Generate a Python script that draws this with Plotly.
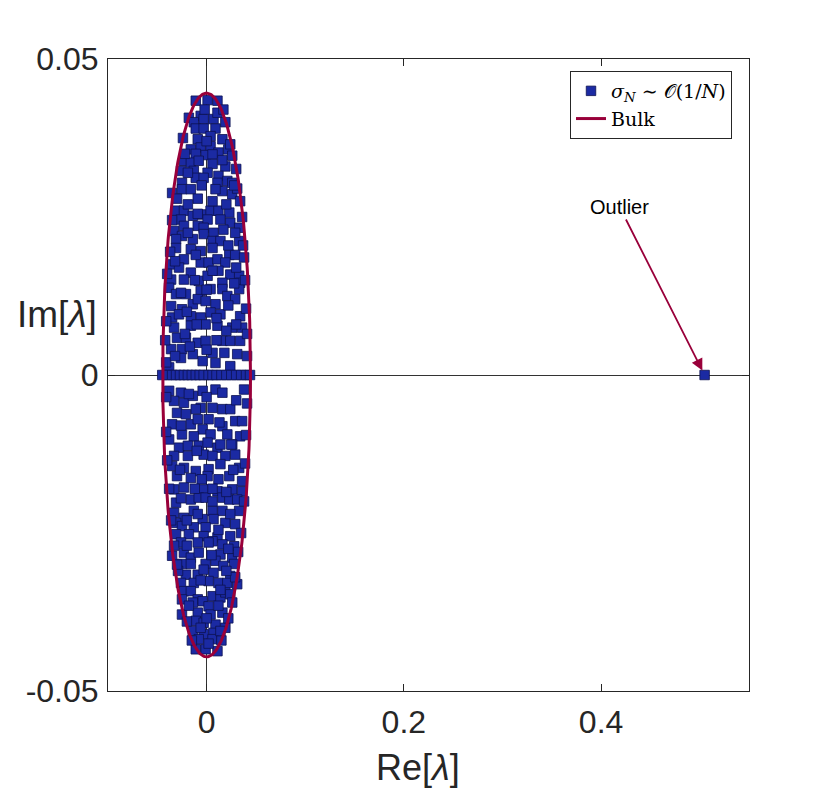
import numpy as np
import plotly.graph_objects as go

# eigenvalues, strip by strip from top to bottom
re_vals = [
    -0.011, 0.001, 0.011, -0.018, -0.006, -0.013, -0.003, 0.007, 0.011, 0.019, -0.011, -0.003, 0.009, -0.024,
    -0.009, 0.004, 0.016, 0.022, -0.016, -0.006, 0.004, 0.012, 0.026, -0.023, -0.011, -0.001, 0.006, -0.016,
    -0.008, 0.006, 0.019, 0.030, -0.026, -0.013, 0.001, 0.012, 0.021, -0.025, -0.011, -0.003, 0.011, 0.026,
    -0.035, -0.025, -0.016, -0.009, -0.030, 0.016, 0.026, 0.034, 0.009,
    -0.031, -0.023, -0.014, -0.004, 0.004, 0.012, 0.023, -0.026, 0.001, 0.014, 0.024, 0.033,
    -0.033, -0.023, -0.009, -0.003, 0.007, 0.017, -0.025, -0.014, -0.003, 0.006, 0.014, 0.033, -0.031,
    -0.031, -0.016, -0.006, 0.006, 0.023, 0.029, -0.023, -0.006, 0.002, 0.011, 0.019, 0.038, -0.035,
    -0.028, -0.016, -0.008, 0.001, 0.012, 0.024, 0.033, -0.036, -0.023, 0.016, 0.034,
    -0.038, -0.031, -0.021, -0.006, 0.004, 0.016, 0.033, -0.014, -0.009, -0.001, 0.009, 0.021, 0.029, -0.036, -0.025,
    -0.035, -0.028, -0.016, -0.006, 0.004, 0.014, 0.034, -0.033, -0.016, -0.001, 0.011, 0.026, 0.036,
    -0.030, -0.021, -0.009, -0.001, 0.016, 0.024, 0.034, -0.036, -0.025, -0.014, 0.006, 0.031,
    -0.026, -0.004, 0.009, 0.024, -0.038,
    -0.045, -0.040, -0.035, -0.031, -0.027, -0.023, -0.019, -0.015, -0.011, -0.007, -0.003,
    0.002, 0.006, 0.010, 0.015, 0.020, 0.025, 0.030, 0.035, 0.040, 0.044,
    -0.038, -0.026, -0.004, 0.009, 0.016, 0.038, -0.033, -0.023, -0.014, -0.006, 0.006, 0.016, 0.024,
    -0.030, -0.021, -0.011, 0.002, 0.029, 0.036, -0.035, -0.016, -0.004, 0.016, -0.025, -0.013, 0.004, 0.021, 0.034,
    -0.038, -0.028, -0.019, -0.008, 0.001, 0.011, 0.026, -0.033, -0.019, -0.003, 0.006, 0.019, 0.029,
    -0.035, -0.023, -0.011, 0.002, 0.014, 0.033, -0.030, -0.016, 0.001, 0.012, 0.023, 0.036,
    -0.033, -0.023, -0.003, 0.011, 0.026, 0.036, -0.031, -0.016, -0.008, -0.001, 0.016, 0.023, 0.031,
    -0.033, -0.023, -0.013, 0.006, 0.016, 0.033, -0.004, 0.007, -0.031, -0.025, 0.019, 0.029,
    -0.013, -0.001, -0.031, -0.018, -0.003, 0.011, 0.024, -0.026, -0.009, 0.006, 0.016, 0.028,
    -0.035, -0.023, -0.016, -0.008, 0.014, 0.026, -0.025, -0.016, -0.001, 0.009, 0.017, 0.028,
    -0.021, -0.009, -0.003, 0.007, 0.024, -0.026, -0.013, 0.002, 0.012, 0.021,
    -0.023, -0.016, -0.009, -0.004, 0.006, 0.014, 0.019, 0.024, 0.031, -0.014, 0.002,
    -0.025, -0.009, 0.004, 0.016, -0.011, -0.003, 0.009, 0.019, -0.014, -0.003, 0.007,
    -0.008, 0.006, -0.011, -0.001, 0.011,
]
im_vals = [
    0.0434, 0.0435, 0.0434, 0.0407, 0.0410, 0.0400, 0.0405, 0.0405, 0.0415, 0.0400, 0.0390, 0.0390, 0.0390, 0.0375,
    0.0373, 0.0378, 0.0373, 0.0357, 0.0357, 0.0360, 0.0362, 0.0352, 0.0347, 0.0339, 0.0350, 0.0348, 0.0349, 0.0336,
    0.0339, 0.0334, 0.0330, 0.0326, 0.0323, 0.0323, 0.0320, 0.0315, 0.0307, 0.0304, 0.0312, 0.0312, 0.0304, 0.0304,
    0.0288, 0.0294, 0.0294, 0.0279, 0.0279, 0.0291, 0.0286, 0.0275, 0.0294,
    0.0260, 0.0260, 0.0252, 0.0254, 0.0260, 0.0260, 0.0257, 0.0246, 0.0246, 0.0246, 0.0241, 0.0233,
    0.0228, 0.0236, 0.0236, 0.0233, 0.0225, 0.0230, 0.0220, 0.0215, 0.0223, 0.0212, 0.0212, 0.0212, 0.0215,
    0.0201, 0.0199, 0.0196, 0.0201, 0.0190, 0.0190, 0.0183, 0.0178, 0.0178, 0.0183, 0.0178, 0.0186, 0.0175,
    0.0170, 0.0162, 0.0149, 0.0157, 0.0165, 0.0159, 0.0157, 0.0151, 0.0151, 0.0146, 0.0146,
    0.0138, 0.0128, 0.0128, 0.0133, 0.0136, 0.0136, 0.0136, 0.0112, 0.0120, 0.0117, 0.0112, 0.0125, 0.0120, 0.0109, 0.0104,
    0.0091, 0.0096, 0.0093, 0.0091, 0.0099, 0.0096, 0.0093, 0.0075, 0.0078, 0.0080, 0.0078, 0.0075, 0.0075,
    0.0059, 0.0059, 0.0051, 0.0054, 0.0054, 0.0054, 0.0054, 0.0041, 0.0041, 0.0033, 0.0035, 0.0033,
    0.0027, 0.0022, 0.0019, 0.0014, 0.0012,
    0.0, 0.0, 0.0, 0.0, 0.0, 0.0, 0.0, 0.0, 0.0, 0.0, 0.0,
    0.0, 0.0, 0.0, 0.0, 0.0, 0.0, 0.0, 0.0, 0.0, 0.0,
    -0.0025, -0.0028, -0.0025, -0.0023, -0.0028, -0.0023, -0.0041, -0.0044, -0.0033, -0.0052, -0.0052, -0.0054, -0.0054,
    -0.0060, -0.0062, -0.0054, -0.0070, -0.0073, -0.0073, -0.0078, -0.0078, -0.0086, -0.0081, -0.0094, -0.0097, -0.0094, -0.0094, -0.0097,
    -0.0102, -0.0115, -0.0112, -0.0112, -0.0107, -0.0115, -0.0110, -0.0128, -0.0128, -0.0126, -0.0128, -0.0128, -0.0126,
    -0.0144, -0.0147, -0.0152, -0.0149, -0.0141, -0.0147, -0.0160, -0.0163, -0.0160, -0.0165, -0.0160, -0.0168,
    -0.0181, -0.0178, -0.0181, -0.0184, -0.0181, -0.0184, -0.0202, -0.0197, -0.0194, -0.0194, -0.0194, -0.0197, -0.0197,
    -0.0218, -0.0226, -0.0215, -0.0215, -0.0215, -0.0215, -0.0228, -0.0228, -0.0234, -0.0239, -0.0234, -0.0236,
    -0.0241, -0.0241, -0.0252, -0.0252, -0.0255, -0.0257, -0.0255, -0.0265, -0.0265, -0.0263, -0.0268, -0.0271,
    -0.0286, -0.0281, -0.0289, -0.0281, -0.0284, -0.0289, -0.0299, -0.0299, -0.0299, -0.0294, -0.0302, -0.0299,
    -0.0316, -0.0316, -0.0308, -0.0313, -0.0318, -0.0329, -0.0329, -0.0326, -0.0329, -0.0329,
    -0.0342, -0.0342, -0.0355, -0.0358, -0.0350, -0.0352, -0.0344, -0.0347, -0.0331, -0.0360, -0.0366,
    -0.0379, -0.0376, -0.0379, -0.0376, -0.0389, -0.0392, -0.0395, -0.0400, -0.0405, -0.0410, -0.0408,
    -0.0418, -0.0418, -0.0434, -0.0434, -0.0437,
]
# squares sitting against the Bulk curve on both sides
re_edge = [
    0.024, -0.022, 0.031, -0.035, 0.036, -0.037, 0.037, 0.039, -0.040, 0.040, -0.041, 0.041,
    -0.042, 0.041, -0.041, -0.041, 0.041, 0.040, -0.041, 0.039, -0.040, -0.038, 0.038, -0.036,
    0.035, -0.033, 0.032, -0.029, 0.029, -0.025, 0.026, -0.020, 0.022, -0.015, 0.015,
]
im_edge = [
    0.0365, 0.0350, 0.0295, 0.0245, 0.0250, 0.0195, 0.0205, 0.0150, 0.0160, 0.0105, 0.0085, 0.0065,
    0.0055, 0.0030, 0.0020, -0.0035, -0.0045, -0.0095, -0.0090, -0.0140, -0.0135, -0.0180, -0.0200, -0.0230,
    -0.0250, -0.0270, -0.0280, -0.0310, -0.0320, -0.0355, -0.0360, -0.0390, -0.0385, -0.0420, -0.0420,
]
# further squares filling the inside of the bulk
re_inner = [
    0.017, -0.002, 0.000, -0.019, 0.016, 0.028, -0.005, 0.020, -0.019, 0.006, -0.009, 0.029,
    -0.019, 0.022, -0.011, 0.030, -0.032, 0.006, -0.012, 0.028, 0.000, -0.026, 0.022, -0.020,
    0.010, -0.010, 0.030, 0.020, -0.022, 0.010, -0.017, 0.018, -0.032, 0.000,
    -0.018, 0.000, 0.030, -0.009, 0.013, -0.026, 0.025, -0.010, 0.014, -0.027, 0.027, -0.005,
    0.006, -0.012, 0.020, -0.026, 0.006, -0.009, 0.024, -0.020, 0.012, 0.002, -0.020, 0.022,
    0.005, -0.030, 0.020, -0.006, 0.014, -0.018, 0.012, 0.000, -0.006, 0.014, 0.002,
]
im_inner = [
    0.0420, 0.0420, 0.0370, 0.0320, 0.0340, 0.0300, 0.0300, 0.0270, 0.0270, 0.0275, 0.0255, 0.0225,
    0.0225, 0.0205, 0.0190, 0.0170, 0.0180, 0.0165, 0.0150, 0.0145, 0.0135, 0.0130, 0.0110, 0.0100,
    0.0090, 0.0080, 0.0080, 0.0070, 0.0065, 0.0055, 0.0045, 0.0035, 0.0030, 0.0040,
    -0.0030, -0.0035, -0.0040, -0.0070, -0.0075, -0.0080, -0.0110, -0.0120, -0.0110, -0.0150, -0.0150, -0.0165,
    -0.0180, -0.0180, -0.0185, -0.0195, -0.0200, -0.0220, -0.0220, -0.0230, -0.0245, -0.0265, -0.0270, -0.0275,
    -0.0285, -0.0300, -0.0310, -0.0325, -0.0340, -0.0365, -0.0365, -0.0385, -0.0400, -0.0405, -0.0425,
]
outlier_re = [0.505]
outlier_im = [0.0]

bulk_radius_re = 0.0445
bulk_radius_im = 0.0446

x_ticks = [0, 0.2, 0.4]
x_ticktext = ["0", "0.2", "0.4"]
y_ticks = [-0.05, 0, 0.05]
y_ticktext = ["-0.05", "0", "0.05"]

theta = np.linspace(0, 2 * np.pi, 400)
bulk_re = bulk_radius_re * np.cos(theta)
bulk_im = bulk_radius_im * np.sin(theta)

crimson = "#99003a"
axcol = "#262626"
sans = "Liberation Sans, Arial, sans-serif"

fig = go.Figure()
fig.add_trace(go.Scatter(
    x=re_vals + re_edge + re_inner + outlier_re,
    y=im_vals + im_edge + im_inner + outlier_im,
    mode="markers",
    name="<i>σ</i><sub><i>N</i></sub> ∼ 𝒪(1/<i>N</i>)",
    marker=dict(symbol="square", size=9.5, color="#1b2aa3",
                line=dict(color="#0c1250", width=0.8)),
))
fig.add_trace(go.Scatter(
    x=bulk_re, y=bulk_im, mode="lines", name="Bulk",
    line=dict(color=crimson, width=3),
))

axis_common = dict(
    showgrid=False, zeroline=True, zerolinecolor="#333333", zerolinewidth=1,
    showline=True, linecolor=axcol, linewidth=1, mirror="ticks",
    ticks="inside", ticklen=7, tickcolor=axcol, layer="above traces",
    tickfont=dict(family=sans, size=32, color=axcol),
)
fig.update_xaxes(range=[-0.1, 0.55], tickvals=x_ticks, ticktext=x_ticktext,
                 ticklabelstandoff=3, **axis_common)
fig.update_yaxes(range=[-0.05, 0.05], tickvals=y_ticks, ticktext=y_ticktext,
                 ticklabelstandoff=2, **axis_common)

fig.add_annotation(x=0.505, y=0, xref="x", yref="y", text="Outlier", showarrow=True,
                   ax=-85, ay=-168, arrowhead=2, arrowsize=1.3, arrowwidth=1.8,
                   arrowcolor=crimson, standoff=5,
                   font=dict(family=sans, size=20, color="black"))
fig.add_annotation(x=0.4836, y=-0.121, xref="paper", yref="paper", showarrow=False,
                   text="Re[<i>λ</i>]", xanchor="center", yanchor="middle",
                   font=dict(family=sans, size=36, color=axcol))
fig.add_annotation(x=-0.0796, y=0.595, xref="paper", yref="paper", showarrow=False,
                   text="Im[<i>λ</i>]", xanchor="center", yanchor="middle",
                   font=dict(family=sans, size=37, color=axcol))

# page body has an 8px margin, so the figure is drawn 8px in from the window edge
fig.update_layout(
    width=814, height=786,
    margin=dict(l=100, r=73, t=51, b=103),
    paper_bgcolor="white", plot_bgcolor="white",
    showlegend=True,
    legend=dict(x=0.9735, y=0.981, xanchor="right", yanchor="top",
                bgcolor="white", bordercolor=axcol, borderwidth=1,
                font=dict(family="DejaVu Serif, Liberation Serif, serif", size=19, color="black"),
                tracegroupgap=0, itemwidth=30),
)

fig.write_html("out.html")
